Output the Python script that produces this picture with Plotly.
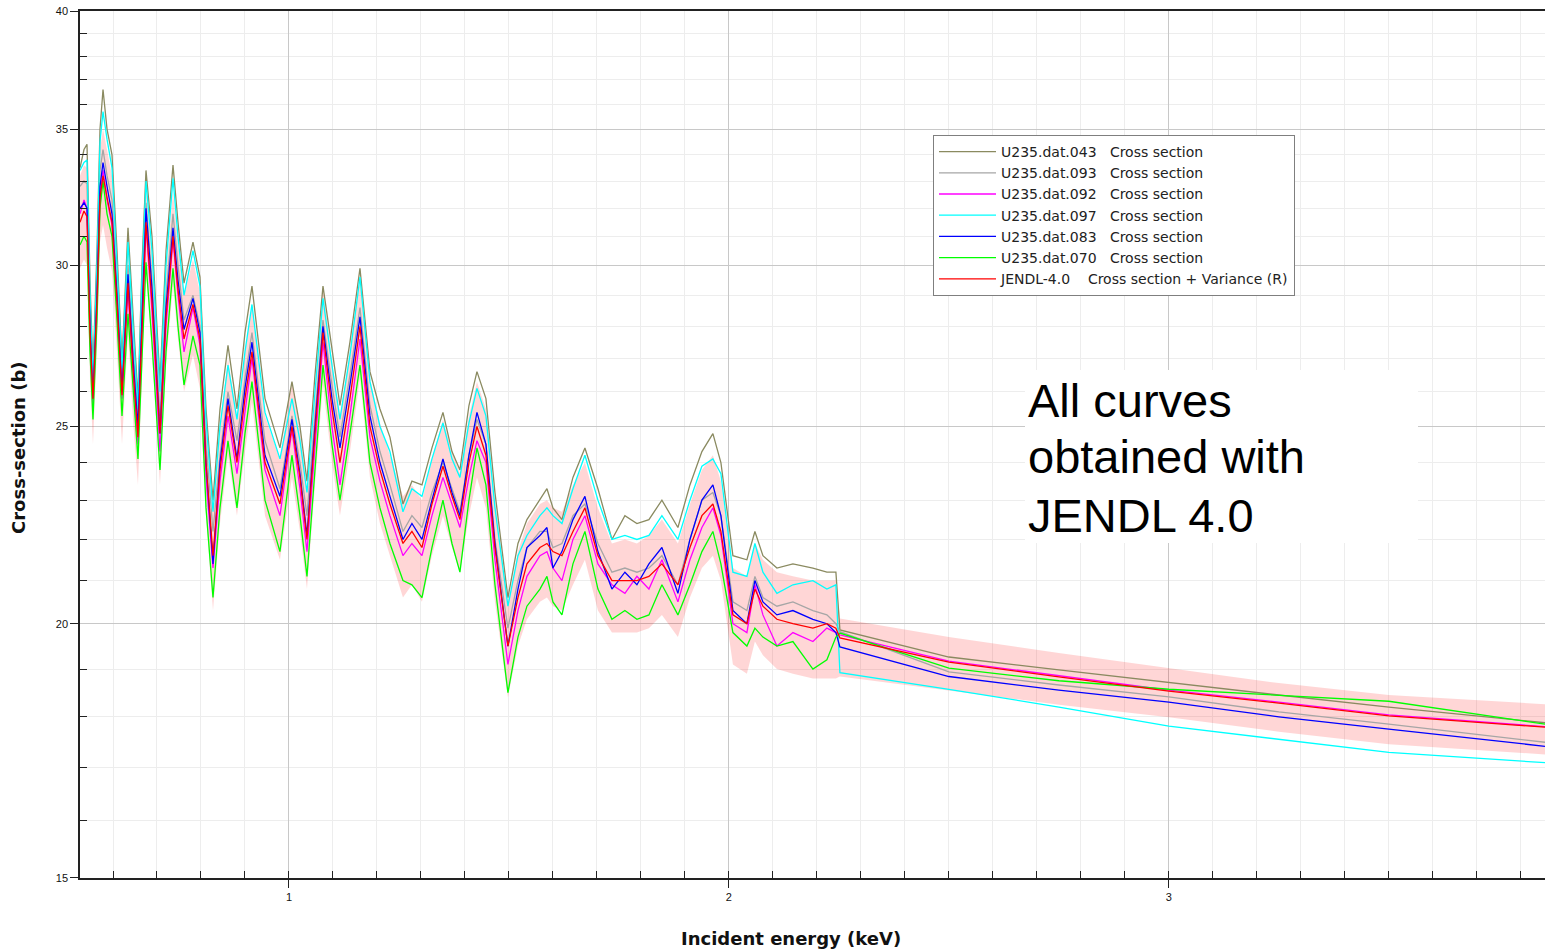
import math
import plotly.graph_objects as go

# ---------------- data ----------------
energy_kev = [
    0.525, 0.5341, 0.5409, 0.5477, 0.5545, 0.5636, 0.5705, 0.5773, 0.5864, 0.5977,
    0.6091, 0.6205, 0.6341, 0.6455, 0.6568, 0.6659, 0.675, 0.6886, 0.7068, 0.7205,
    0.7364, 0.7477, 0.7614, 0.7818, 0.7977, 0.8114, 0.8273, 0.8432, 0.8614, 0.8818,
    0.9, 0.9159, 0.9455, 0.9795, 1.0068, 1.025, 1.0409, 1.0591, 1.0773, 1.0977,
    1.1159, 1.1386, 1.1614, 1.1841, 1.2068, 1.2295, 1.2591, 1.2795, 1.3023, 1.325,
    1.35, 1.3705, 1.3886, 1.4091, 1.4273, 1.4477, 1.4682, 1.4977, 1.5205, 1.5409,
    1.5705, 1.5864, 1.6, 1.6205, 1.6455, 1.6727, 1.7023, 1.7341, 1.7636, 1.7909,
    1.8182, 1.8477, 1.8841, 1.9114, 1.9386, 1.9636, 1.9818, 2.0091, 2.0409, 2.0591,
    2.0773, 2.1091, 2.1455, 2.1909, 2.2227, 2.2432,
    2.2523, 2.5, 2.75, 3.0, 3.25, 3.5, 3.855,
]

u235_043 = [
    33.5, 34.2, 34.4, 29.5, 26.6, 30.5, 35.0, 36.6, 35.0, 34.0,
    30.5, 26.9, 31.3, 28.5, 25.8, 30.0, 33.4, 31.0, 26.3, 30.5,
    33.6, 31.5, 29.4, 30.8, 29.6, 25.5, 23.0, 25.5, 27.4, 25.5,
    27.8, 29.3, 25.8, 24.4, 26.3, 25.0, 23.5, 26.5, 29.3, 27.3,
    25.6, 27.5, 29.9, 26.6, 25.5, 24.7, 22.9, 23.5, 23.4, 24.4,
    25.4, 24.3, 23.8, 25.6, 26.6, 25.8, 23.2, 20.6, 21.9, 22.5,
    23.0, 23.3, 22.8, 22.5, 23.6, 24.4, 23.3, 22.0, 22.6, 22.4,
    22.5, 23.0, 22.3, 23.4, 24.3, 24.8, 24.0, 21.6, 21.5, 22.2,
    21.6, 21.3, 21.4, 21.3, 21.2, 21.2,
    19.86, 19.26, 18.98, 18.71, 18.45, 18.2, 17.88,
]

u235_093 = [
    32.8, 33.0, 32.9, 28.5, 26.0, 29.4, 33.4, 34.2, 33.2, 32.3,
    29.3, 26.3, 30.0, 27.3, 25.3, 28.8, 32.2, 29.5, 25.3, 29.0,
    31.8, 30.0, 28.2, 29.0, 28.0, 24.5, 22.2, 24.2, 26.0, 24.6,
    26.4, 27.8, 24.6, 23.3, 25.3, 24.0, 22.6, 25.3, 28.2, 26.2,
    24.7, 26.5, 28.6, 25.6, 24.3, 23.4, 22.2, 22.6, 22.3, 23.2,
    24.0, 23.3, 22.7, 24.2, 25.2, 24.5, 22.0, 19.9, 21.0, 21.8,
    22.2, 22.2, 21.8, 21.9, 22.6, 22.9, 21.9, 21.2, 21.3, 21.2,
    21.3, 21.6, 20.9, 22.0, 23.0, 23.2, 22.6, 20.5, 20.3, 21.1,
    20.6, 20.4, 20.5, 20.3, 20.2, 20.0,
    19.82, 18.94, 18.66, 18.41, 18.1, 17.85, 17.49,
]

u235_092 = [
    31.8, 32.3, 32.0, 27.7, 25.6, 28.5, 32.4, 33.4, 32.3, 31.4,
    28.6, 25.8, 29.2, 26.5, 24.5, 27.8, 31.4, 28.5, 24.3, 28.0,
    30.9, 29.0, 27.2, 28.6, 27.4, 23.6, 21.3, 23.5, 25.3, 23.7,
    25.5, 27.0, 23.8, 22.6, 24.9, 23.3, 21.7, 24.5, 27.5, 25.0,
    23.4, 25.3, 27.6, 24.7, 23.5, 22.6, 21.6, 21.9, 21.6, 22.6,
    23.6, 22.9, 22.3, 23.6, 24.6, 24.0, 21.5, 19.1, 20.3, 21.1,
    21.6, 21.7, 21.3, 21.0, 22.0, 22.6, 21.4, 20.9, 20.7, 21.1,
    20.8, 21.5, 20.5, 21.5, 22.3, 22.8, 22.1, 20.0, 19.8, 20.9,
    20.2, 19.5, 19.8, 19.6, 19.9, 19.8,
    19.75, 19.17, 18.85, 18.55, 18.3, 18.04, 17.8,
]

u235_097 = [
    33.4, 33.7, 33.8, 29.0, 26.3, 30.0, 34.5, 35.7, 34.6, 33.5,
    30.0, 26.7, 30.8, 28.0, 25.5, 29.6, 33.0, 30.5, 26.0, 30.0,
    33.1, 31.0, 29.0, 30.5, 29.3, 25.2, 22.7, 25.0, 26.8, 25.2,
    27.2, 28.7, 25.4, 24.1, 25.8, 24.6, 23.2, 26.0, 28.9, 26.8,
    25.2, 27.1, 29.6, 26.3, 25.0, 24.3, 22.7, 23.3, 23.1, 24.1,
    25.1, 24.1, 23.6, 25.1, 26.1, 25.3, 22.8, 20.4, 21.6, 22.1,
    22.6, 22.8, 22.6, 22.4, 23.3, 24.2, 23.0, 22.0, 22.1, 22.0,
    22.1, 22.6, 22.0, 23.0, 23.9, 24.1, 23.7, 21.2, 21.1, 21.9,
    21.2, 20.7, 20.9, 21.0, 20.8, 20.9,
    18.92, 18.57, 18.2, 17.81, 17.55, 17.29, 17.09,
]

u235_083 = [
    32.0, 32.2, 32.0, 28.0, 25.8, 29.0, 32.8, 33.7, 32.8, 31.8,
    29.0, 26.0, 29.7, 27.0, 25.0, 28.5, 32.0, 29.2, 24.8, 28.6,
    31.3, 29.5, 27.9, 28.9, 27.8, 24.0, 21.4, 24.0, 25.8, 24.1,
    26.1, 27.5, 24.2, 23.1, 25.2, 23.7, 22.1, 25.0, 28.0, 25.8,
    24.4, 26.2, 28.3, 25.3, 24.0, 23.1, 22.0, 22.4, 22.0, 23.0,
    24.1, 23.2, 22.6, 24.2, 25.4, 24.5, 21.9, 19.5, 20.8, 21.8,
    22.1, 22.3, 21.3, 21.7, 22.5, 23.1, 21.7, 20.8, 21.2, 20.9,
    21.4, 21.8, 20.7, 22.0, 23.0, 23.4, 22.6, 20.3, 20.0, 21.0,
    20.5, 20.2, 20.3, 20.1, 20.0, 19.8,
    19.48, 18.84, 18.55, 18.30, 18.0, 17.75, 17.41,
]

u235_070 = [
    30.7, 31.0, 30.8, 27.2, 25.2, 28.2, 32.0, 33.0, 31.8, 31.0,
    28.2, 25.3, 28.4, 26.0, 24.1, 27.0, 30.1, 27.5, 23.8, 27.2,
    29.9, 28.0, 26.2, 27.7, 26.8, 22.8, 20.6, 22.8, 24.6, 22.8,
    24.8, 26.3, 23.0, 21.7, 24.2, 22.6, 21.1, 23.8, 26.8, 24.5,
    23.0, 24.8, 26.8, 24.0, 22.8, 21.9, 21.0, 20.9, 20.6, 21.8,
    23.0, 21.9, 21.2, 23.0, 24.4, 23.4, 20.9, 18.5, 19.7, 20.4,
    20.8, 21.1, 20.5, 20.2, 21.4, 22.2, 20.8, 20.1, 20.3, 20.1,
    20.2, 20.9, 20.2, 20.9, 21.7, 22.2, 21.4, 19.8, 19.5, 19.9,
    19.7, 19.5, 19.6, 19.0, 19.2, 19.7,
    19.79, 19.02, 18.75, 18.57, 18.45, 18.32, 17.85,
]

jendl40 = [
    31.5, 31.9, 31.7, 27.8, 25.8, 28.8, 32.4, 33.2, 32.4, 31.5,
    28.8, 25.9, 29.4, 26.7, 24.7, 28.0, 31.5, 28.8, 24.8, 28.3,
    31.0, 29.2, 27.6, 28.7, 27.6, 24.0, 21.6, 23.8, 25.6, 24.0,
    25.8, 27.2, 24.0, 22.9, 25.0, 23.6, 22.0, 24.8, 27.8, 25.5,
    24.0, 25.8, 28.0, 25.0, 23.8, 22.9, 21.9, 22.2, 21.8, 22.9,
    23.9, 23.1, 22.5, 24.0, 25.0, 24.2, 21.8, 19.5, 20.6, 21.4,
    21.8, 21.9, 21.7, 21.6, 22.2, 22.8, 21.6, 21.0, 21.0, 21.0,
    21.1, 21.4, 20.9, 21.8, 22.6, 22.9, 22.2, 20.2, 20.0, 20.8,
    20.4, 20.1, 20.0, 19.9, 20.0, 19.9,
    19.68, 19.15, 18.83, 18.53, 18.28, 18.02, 17.79,
]

jendl40_upper = [
    33.2, 33.6, 33.5, 29.2, 27.0, 30.3, 34.2, 35.0, 34.2, 33.2,
    30.4, 27.3, 31.0, 28.2, 26.0, 29.5, 33.0, 30.4, 26.1, 29.8,
    32.6, 30.8, 29.0, 30.2, 29.1, 25.3, 22.8, 25.1, 27.0, 25.3,
    27.2, 28.7, 25.3, 24.1, 26.3, 24.9, 23.2, 26.1, 29.3, 26.9,
    25.3, 27.2, 29.5, 26.4, 25.1, 24.2, 23.1, 23.4, 23.0, 24.1,
    25.2, 24.3, 23.7, 25.3, 26.3, 25.5, 23.0, 20.5, 21.7, 22.4,
    22.9, 23.0, 22.8, 22.7, 23.4, 24.0, 22.8, 21.9, 22.0, 21.9,
    22.1, 22.5, 21.9, 22.9, 23.8, 24.2, 23.5, 21.3, 21.1, 21.9,
    21.5, 21.2, 21.1, 21.0, 21.0, 21.0,
    20.12, 19.7, 19.35, 19.02, 18.7, 18.45, 18.26,
]

jendl40_lower = [
    29.9, 30.2, 30.0, 26.4, 24.5, 27.3, 30.8, 31.4, 30.6, 29.8,
    27.2, 24.5, 27.8, 25.2, 23.4, 26.5, 29.8, 27.2, 23.4, 26.8,
    29.3, 27.6, 26.0, 27.1, 26.1, 22.6, 20.3, 22.4, 24.2, 22.6,
    24.3, 25.7, 22.6, 21.5, 23.6, 22.2, 20.8, 23.4, 26.2, 24.0,
    22.6, 24.3, 26.4, 23.6, 22.4, 21.6, 20.6, 20.9, 20.5, 21.6,
    22.6, 21.8, 21.2, 22.6, 23.6, 22.8, 20.5, 18.4, 19.5, 20.1,
    20.5, 20.6, 20.4, 20.3, 20.9, 21.5, 20.3, 19.8, 19.8, 19.8,
    19.9, 20.2, 19.7, 20.6, 21.3, 21.6, 21.0, 19.1, 18.9, 19.6,
    19.3, 19.0, 18.9, 18.8, 18.8, 18.8,
    18.84, 18.55, 18.25, 17.99, 17.7, 17.45, 17.25,
]

series_names = [
    "U235.dat.043\u00a0\u00a0\u00a0Cross section",
    "U235.dat.093\u00a0\u00a0\u00a0Cross section",
    "U235.dat.092\u00a0\u00a0\u00a0Cross section",
    "U235.dat.097\u00a0\u00a0\u00a0Cross section",
    "U235.dat.083\u00a0\u00a0\u00a0Cross section",
    "U235.dat.070\u00a0\u00a0\u00a0Cross section",
    "JENDL-4.0\u00a0\u00a0\u00a0\u00a0Cross section + Variance (R)",
]
series_values = [u235_043, u235_093, u235_092, u235_097, u235_083, u235_070, jendl40]
series_colors = ["#8a8a60", "#a6a6a6", "#ff00ff", "#00ffff", "#0000ff", "#00ff00", "#ff0000"]

x_ticks = [1, 2, 3]
y_ticks = [15, 20, 25, 30, 35, 40]
y_minor = [16, 17, 18, 19, 21, 22, 23, 24, 26, 27, 28, 29, 31, 32, 33, 34, 36, 37, 38, 39]
x_range = [0.525, 3.855]
y_range = [15, 40]

# ---------------- figure ----------------
fig = go.Figure()

fig.add_trace(go.Scatter(x=energy_kev, y=jendl40_lower, mode="lines",
                         line=dict(width=0, color="rgba(255,0,0,0)"),
                         showlegend=False, hoverinfo="skip"))
fig.add_trace(go.Scatter(x=energy_kev, y=jendl40_upper, mode="lines",
                         line=dict(width=0, color="rgba(255,0,0,0)"),
                         fill="tonexty", fillcolor="rgba(255,0,0,0.16)",
                         showlegend=False, hoverinfo="skip"))

for name, vals, col in zip(series_names, series_values, series_colors):
    fig.add_trace(go.Scatter(x=energy_kev, y=vals, mode="lines", name=name,
                             line=dict(color=col, width=1.3)))

tick_font = dict(family="Liberation Sans, Arial, sans-serif", size=11, color="#111")
eps = 1e-5

fig.update_layout(
    width=1545, height=950,
    margin=dict(l=80, r=0, t=11, b=72, autoexpand=False),
    paper_bgcolor="white", plot_bgcolor="white",
    showlegend=True,
    legend=dict(
        x=(933 - 80) / 1465, y=(878 - 135) / 867, xanchor="left", yanchor="top",
        bgcolor="white", bordercolor="#7f7f7f", borderwidth=1,
        font=dict(family="DejaVu Sans", size=14, color="#222"),
        itemwidth=57, tracegroupgap=0, traceorder="normal",
    ),
    xaxis=dict(
        range=x_range, tickmode="array", tickvals=x_ticks,
        ticks="outside", ticklen=8, tickwidth=1, tickcolor="#222",
        showline=True, linecolor="#222", linewidth=1.5, mirror=True,
        showgrid=True, gridcolor="#c8c8c8", gridwidth=1.3,
        zeroline=False, tickfont=tick_font, ticklabeloverflow="allow",
        minor=dict(dtick=0.1, tick0=0, ticks="inside", ticklen=7, tickcolor="#222",
                   showgrid=True, gridcolor="#ededed", gridwidth=1),
    ),
    xaxis2=dict(
        range=x_range, overlaying="x", side="top", anchor="y",
        tickmode="array", tickvals=x_ticks, ticks="inside", ticklen=7, tickcolor="#222",
        showticklabels=False, showgrid=False, showline=False, zeroline=False,
        minor=dict(dtick=0.1, tick0=0, ticks="inside", ticklen=6, tickcolor="#222", showgrid=False),
    ),
    yaxis=dict(
        type="log",
        range=[math.log10(y_range[0]) - eps, math.log10(y_range[1]) + eps],
        tickmode="array", tickvals=y_ticks, ticktext=[str(v) for v in y_ticks],
        ticks="outside", ticklen=8, tickwidth=1, tickcolor="#222",
        showline=True, linecolor="#222", linewidth=1.5,
        showgrid=True, gridcolor="#c8c8c8", gridwidth=1.3,
        zeroline=False, tickfont=tick_font, ticklabeloverflow="allow",
        minor=dict(tickmode="array", tickvals=y_minor, ticks="inside", ticklen=7,
                   tickcolor="#222", showgrid=True, gridcolor="#ededed", gridwidth=1),
    ),
)

# white box behind the note
fig.add_shape(type="rect", xref="paper", yref="paper",
              x0=(1025 - 80) / 1465, x1=(1418 - 80) / 1465,
              y0=(878 - 543) / 867, y1=(878 - 370) / 867,
              fillcolor="white", line=dict(width=0), layer="above")

note_font = dict(family="Liberation Sans, Arial, sans-serif", size=47, color="black")
for txt, py in [("All curves", 400.4), ("obtained with", 457.0), ("JENDL 4.0", 515.4)]:
    fig.add_annotation(text=txt, xref="paper", yref="paper",
                       x=(1026 - 80) / 1465, y=(878 - py) / 867,
                       xanchor="left", yanchor="middle", showarrow=False,
                       font=note_font)

title_font = dict(family="DejaVu Sans", size=18, color="#111")
fig.add_annotation(text="<b>Incident energy (keV)</b>", xref="paper", yref="paper",
                   x=(791 - 80) / 1465, y=(878 - 938) / 867,
                   xanchor="center", yanchor="middle", showarrow=False, font=title_font)
fig.add_annotation(text="<b>Cross-section (b)</b>", xref="paper", yref="paper",
                   x=(18 - 80) / 1465, y=(878 - 448) / 867, textangle=-90,
                   xanchor="center", yanchor="middle", showarrow=False, font=title_font)

# remove the default page margin so the figure fills the window exactly
fig.write_html("out.html",
               config={"displayModeBar": False},
               post_script="document.body.style.margin='0';document.body.style.overflow='hidden';")
